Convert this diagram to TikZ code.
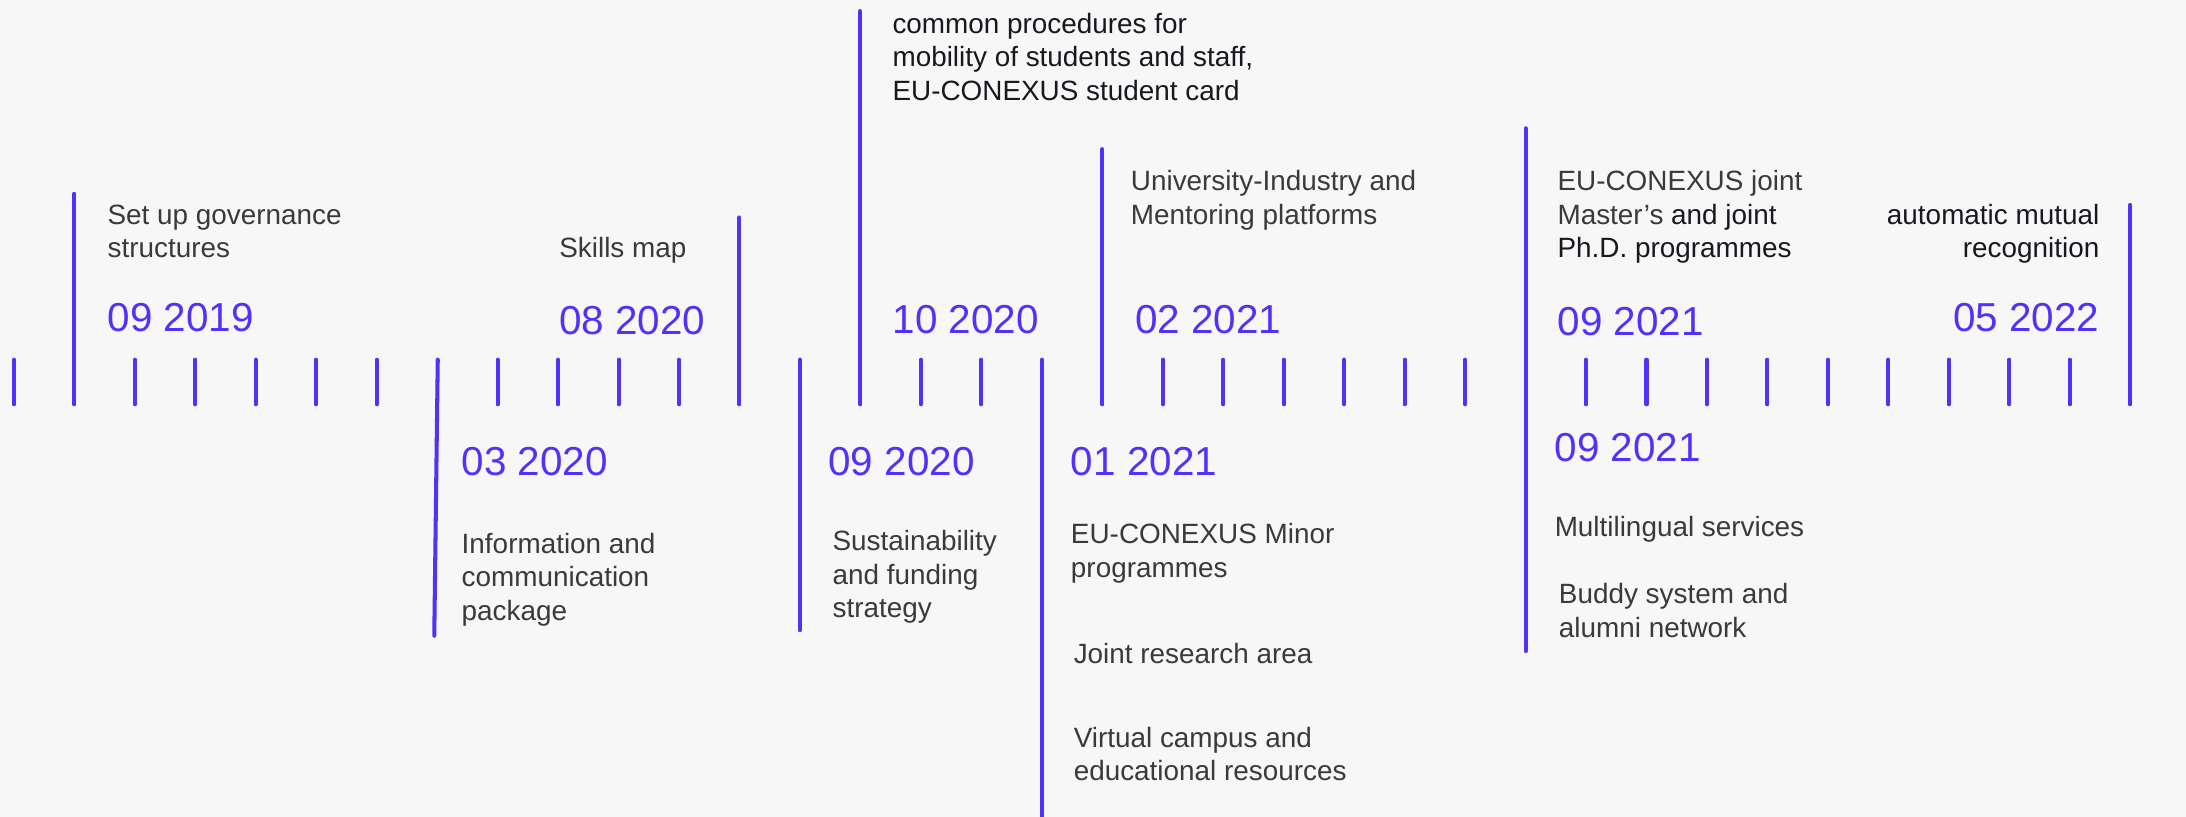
\documentclass[tikz,border=0pt]{standalone}
\usepackage{fontspec}
\setmainfont{Liberation Sans}
\definecolor{tlblue}{HTML}{5232F8}
\definecolor{txtgrey}{HTML}{3A3A3A}
\definecolor{txtdark}{HTML}{18181F}
\definecolor{bgcol}{HTML}{F7F7F7}
\newcommand\mlines[1]{\vtop{\baselineskip=24pt\lineskip=0pt\lineskiplimit=-100pt\halign{##\hfil\cr#1\crcr}}}
\newcommand\mrlines[1]{\vtop{\baselineskip=24pt\lineskip=0pt\lineskiplimit=-100pt\halign{\hfil##\cr#1\crcr}}}
\tikzset{
  tickline/.style={draw=tlblue, line width=2.9pt, line cap=round},
  datelbl/.style={inner sep=0pt, anchor=base west, text=tlblue, font=\fontsize{29}{34}\selectfont},
  desc/.style={inner sep=0pt, anchor=base west, text=txtgrey, font=\fontsize{20}{24}\selectfont},
  descdark/.style={desc, text=txtdark},
}
\begin{document}
\begin{tikzpicture}[x=1pt,y=-1pt]
\path[use as bounding box, fill=bgcol] (0,0) rectangle (1568,586);
% short ticks
\foreach \k in {0,2,3,4,5,6,8,9,10,11,15,16,19,20,21,22,23,24,26,27,28,29,30,31,32,33,34}{
  \coordinate (ta\k) at (10+43.37*\k,258);
  \coordinate (tb\k) at (10+43.37*\k,290);
  \draw[tickline] (ta\k) -- (tb\k);
}
% milestone lines
\coordinate (m1a) at (53.4,139);  \coordinate (m1b) at (53.4,290);
\coordinate (m2a) at (314,258);   \coordinate (m2b) at (311.5,456);
\coordinate (m3a) at (530.4,156); \coordinate (m3b) at (530.4,290);
\coordinate (m4a) at (573.8,258); \coordinate (m4b) at (573.8,452);
\coordinate (m5a) at (617.2,8);   \coordinate (m5b) at (617.2,290);
\coordinate (m6a) at (747.3,258); \coordinate (m6b) at (747.3,595);
\coordinate (m7a) at (790.7,107); \coordinate (m7b) at (790.7,290);
\coordinate (m8a) at (1094.3,92); \coordinate (m8b) at (1094.3,467);
\coordinate (m9a) at (1528,147);  \coordinate (m9b) at (1528,290);
\foreach \m in {1,...,9}{\draw[tickline] (m\m a) -- (m\m b);}
% upper labels
\node[desc] (t1) at (77,161) {\mlines{Set up governance\cr structures}};
\node[datelbl] (d1) at (77,238) {09 2019};
\node[desc] (t2) at (401,185) {Skills map};
\node[datelbl] (d2) at (401,240) {08 2020};
\node[descdark] (t3) at (640,24) {\mlines{common procedures for\cr mobility of students and staff,\cr EU-CONEXUS student card}};
\node[datelbl] (d3) at (640,239) {10 2020};
\node[desc] (t4) at (811,137) {\mlines{University-Industry and\cr Mentoring platforms}};
\node[datelbl] (d4) at (814,239) {02 2021};
\node[desc] (t5) at (1117,137) {\mlines{EU-CONEXUS joint\cr Master’s {\color{txtdark}and joint}\cr {\color{txtdark}Ph.D. programmes}}};
\node[datelbl] (d5) at (1117,241) {09 2021};
\node[descdark, anchor=base east] (t6) at (1506,161) {\mrlines{automatic mutual\cr recognition}};
\node[datelbl, anchor=base east] (d6) at (1506,238) {05 2022};
% lower labels
\node[datelbl] (d7) at (331,341) {03 2020};
\node[desc] (t7) at (331,397) {\mlines{Information and\cr communication\cr package}};
\node[datelbl] (d8) at (594,341) {09 2020};
\node[desc] (t8) at (597,395) {\mlines{Sustainability\cr and funding\cr strategy}};
\node[datelbl] (d9) at (768,341) {01 2021};
\node[desc] (t9) at (768,390) {\mlines{EU-CONEXUS Minor\cr programmes}};
\node[desc] (t10) at (770,476) {Joint research area};
\node[desc] (t11) at (770,536) {\mlines{Virtual campus and\cr educational resources}};
\node[datelbl] (d10) at (1115,331) {09 2021};
\node[desc] (t12) at (1115,385) {Multilingual services};
\node[desc] (t13) at (1118,433) {\mlines{Buddy system and\cr alumni network}};
\end{tikzpicture}
\end{document}
